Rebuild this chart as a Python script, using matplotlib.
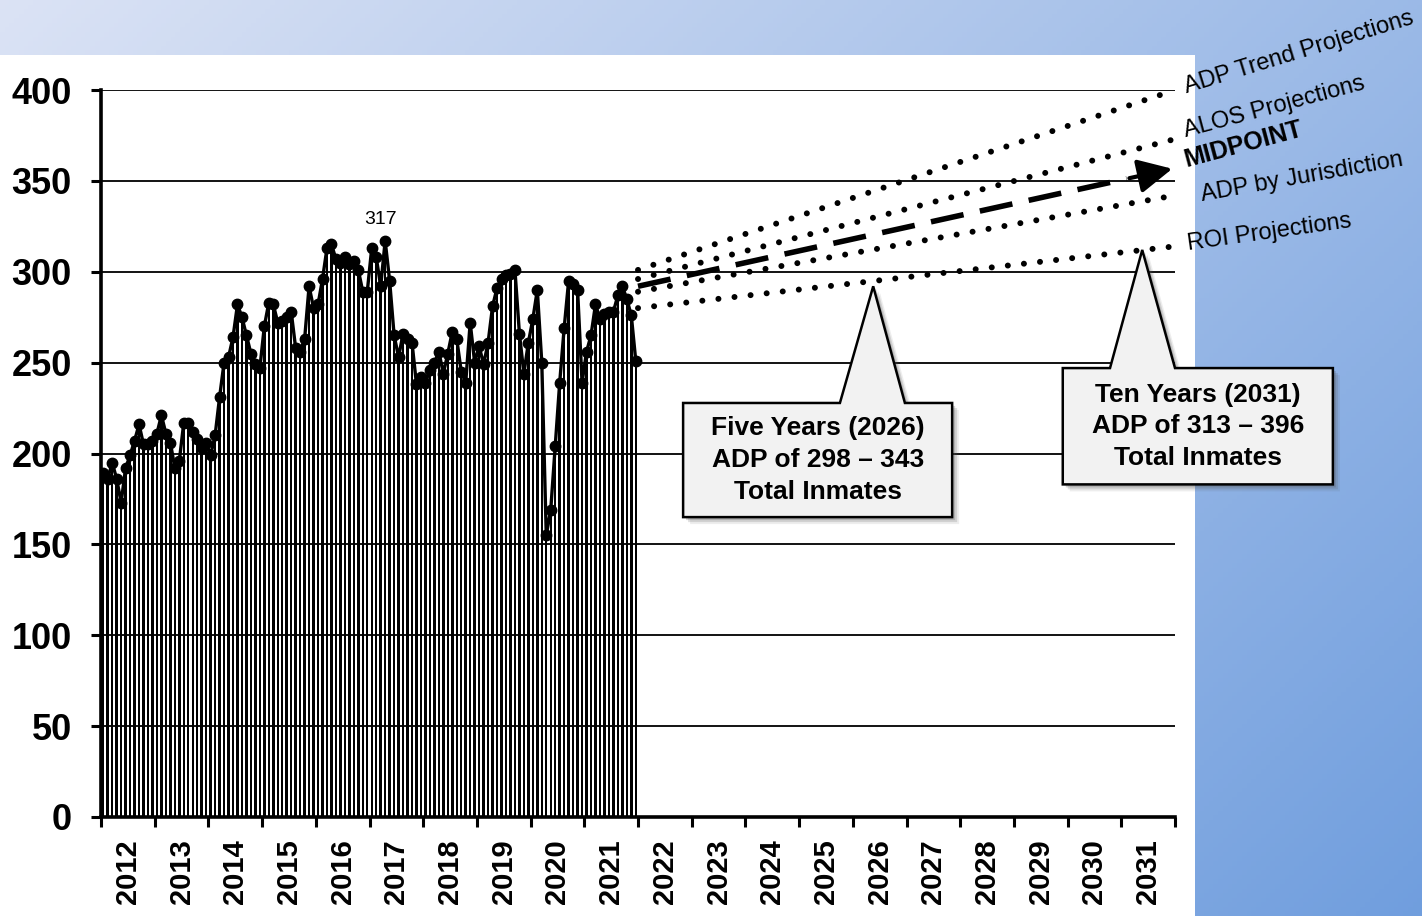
import numpy as np
import matplotlib
matplotlib.use("Agg")
import matplotlib.pyplot as plt
import matplotlib.transforms as mtransforms
from matplotlib.patches import Polygon, Rectangle

plt.rcParams['font.family'] = ['Liberation Sans', 'DejaVu Sans']

# monthly average daily population, Jan 2012 - Dec 2021
adp = [189, 186, 195, 186, 173, 192, 199, 207, 216, 205, 205, 207,
       211, 221, 211, 206, 192, 196, 217, 217, 212, 208, 203, 206,
       199, 210, 231, 250, 253, 264, 282, 275, 265, 255, 249, 247,
       270, 283, 282, 272, 273, 275, 278, 258, 256, 263, 292, 280,
       282, 296, 313, 315, 307, 305, 308, 304, 306, 301, 289, 289,
       313, 308, 292, 317, 295, 265, 253, 266, 263, 261, 238, 242,
       239, 246, 250, 256, 244, 255, 267, 263, 245, 239, 272, 250,
       259, 249, 261, 281, 291, 296, 298, 299, 301, 266, 244, 261,
       274, 290, 250, 155, 169, 204, 239, 269, 295, 293, 290, 239,
       256, 265, 282, 274, 277, 278, 278, 287, 292, 285, 276, 251]
start_year = 2012
years = list(range(2012, 2032))

# projections, start of 2022 -> end of 2031
proj_x = [2022, 2032]
adp_trend = [301, 400]
alos = [296, 373]
midpoint = [292, 357]
jurisdiction = [289, 342]
roi = [280, 314]

month_x = start_year + (np.arange(len(adp)) + 0.5) / 12

fig = plt.figure(figsize=(14.22, 9.16), dpi=100)

# gradient background
bg = fig.add_axes([0, 0, 1, 1], zorder=-10)
gx, gy = np.meshgrid(np.linspace(0, 1, 300), np.linspace(0, 1, 200))
t = np.clip(0.6 * gx + 0.4 * gy, 0, 1)
c0 = np.array([0.86, 0.89, 0.96])
c1 = np.array([0.44, 0.62, 0.87])
img = c0[None, None, :] * (1 - t[..., None]) + c1[None, None, :] * t[..., None]
bg.imshow(img, aspect='auto', extent=[0, 1, 0, 1], origin='upper')
bg.axis('off')
fig.patches.append(Rectangle((0, 0), 1195 / 1422, 1 - 55 / 916, transform=fig.transFigure,
                             facecolor='white', edgecolor='none', zorder=-5))

ax = fig.add_axes([101 / 1422, 1 - 817 / 916, (1175 - 101) / 1422, (817 - 90) / 916])
ax.set_facecolor('none')
ax.set_xlim(2012, 2032)
ax.set_ylim(0, 400)

for v in range(50, 401, 50):
    ax.axhline(v, color='black', lw=1.3, zorder=1)

ax.bar(month_x, adp, width=0.55 / 12, color='black', zorder=2)
ax.plot(month_x, adp, color='black', lw=2.4, marker='o', ms=7.5, zorder=3)
i_max = int(np.argmax(adp))
ax.annotate(str(adp[i_max]), (month_x[i_max], adp[i_max]), xytext=(-3, 9),
            textcoords='offset points', ha='center', va='bottom', fontsize=14)

dot = dict(color='black', lw=4.3, linestyle=(0, (0.01, 2.7)), dash_capstyle='round',
           zorder=5, clip_on=False)
ax.plot(proj_x, adp_trend, **dot)
ax.plot(proj_x, alos, **dot)
ax.plot(proj_x, jurisdiction, **dot)
ax.plot(proj_x, roi, **dot)

# midpoint dashed arrow
frac = 0.91
mid_end = (proj_x[0] + frac * (proj_x[1] - proj_x[0]),
           midpoint[0] + frac * (midpoint[1] - midpoint[0]))
ax.plot([proj_x[0], mid_end[0]], [midpoint[0], mid_end[1]], color='black', lw=4,
        linestyle=(0, (6, 3)), zorder=5)
ax.annotate('', xy=(proj_x[1], midpoint[1]), xytext=mid_end,
            arrowprops=dict(arrowstyle='-|>', color='black', lw=3, mutation_scale=52),
            zorder=6, annotation_clip=False)

lab = dict(ha='left', va='baseline', rotation_mode='anchor', clip_on=False)
ax.text(2032.22, 398, 'ADP Trend Projections', rotation=17, fontsize=17, **lab)
ax.text(2032.2, 374, 'ALOS Projections', rotation=15, fontsize=17, **lab)
ax.text(2032.22, 357.5, 'MIDPOINT', rotation=15, fontsize=18, fontweight='bold', **lab)
ax.text(2032.5, 339, 'ADP by Jurisdiction', rotation=10, fontsize=17, **lab)
ax.text(2032.24, 312, 'ROI Projections', rotation=8, fontsize=17, **lab)


def callout(x0, x1, y0, y1, b0, b1, tip, text):
    verts = [(x0, y0), (x1, y0), (x1, y1), (b1, y1), tip, (b0, y1), (x0, y1)]
    for k, a in [(7, 0.10), (5, 0.18), (3, 0.25)]:
        tr = mtransforms.offset_copy(ax.transData, fig=fig, x=k, y=-k, units='dots')
        ax.add_patch(Polygon(verts, closed=True, facecolor='#555555', edgecolor='none',
                             alpha=a, transform=tr, zorder=3.5, clip_on=False))
    ax.add_patch(Polygon(verts, closed=True, facecolor='#f2f2f2', edgecolor='black',
                         lw=1.8, zorder=4, clip_on=False))
    ax.text((x0 + x1) / 2, (y0 + y1) / 2, text, ha='center', va='center', fontsize=19,
            fontweight='bold', linespacing=1.4, zorder=4.5, clip_on=False)


callout(2022.84, 2027.85, 165, 227.8, 2025.76, 2026.97, (2026.38, 292),
        'Five Years (2026)\nADP of 298 \u2013 343\nTotal Inmates')
callout(2029.91, 2034.94, 183, 247, 2030.79, 2032.0, (2031.39, 312),
        'Ten Years (2031)\nADP of 313 \u2013 396\nTotal Inmates')

ax.set_yticks(range(0, 401, 50))
ax.set_yticklabels([str(v) for v in range(0, 401, 50)], fontsize=26, fontweight='bold')
ax.set_xticks(range(2012, 2033))
ax.set_xticklabels([])
ax.set_xticks([y + 0.5 for y in years], minor=True)
ax.set_xticklabels([str(y) for y in years], minor=True, rotation=90, fontsize=21,
                   fontweight='bold')
ax.tick_params(axis='x', which='minor', length=0, pad=16)
ax.tick_params(axis='x', which='major', length=7, width=2.2, direction='out')
ax.tick_params(axis='y', length=7, width=2.2, direction='out', pad=14)

for s in ['top', 'right']:
    ax.spines[s].set_visible(False)
for s in ['left', 'bottom']:
    ax.spines[s].set_linewidth(2.6)
    ax.spines[s].set_zorder(6)

fig.savefig('out.png', dpi=100)
